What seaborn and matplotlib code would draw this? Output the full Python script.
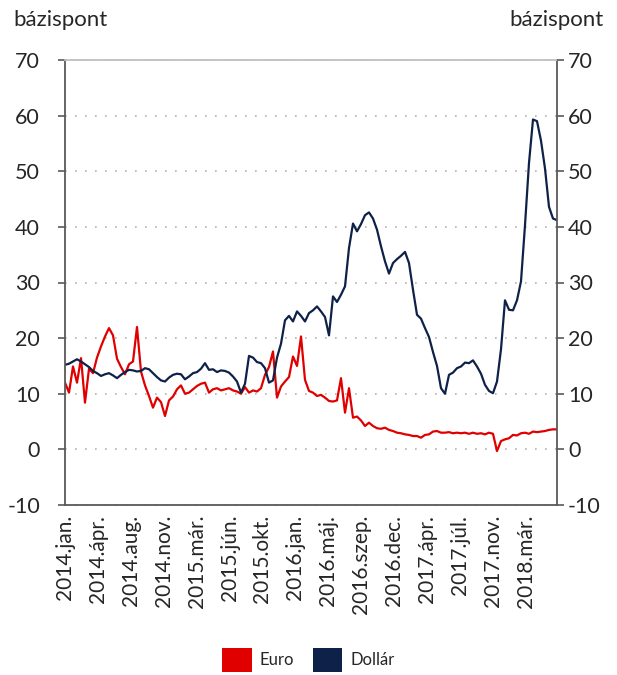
import numpy as np
import pandas as pd
import matplotlib
matplotlib.use("Agg")
import matplotlib.pyplot as plt
import seaborn as sns
from matplotlib.patches import Patch

tick_labels = ['2014.jan.', '2014.ápr.', '2014.aug.', '2014.nov.', '2015.már.',
               '2015.jún.', '2015.okt.', '2016.jan.', '2016.máj.', '2016.szep.',
               '2016.dec.', '2017.ápr.', '2017.júl.', '2017.nov.', '2018.már.']

dollar = [15.2, 15.4, 15.8, 16.2, 15.8, 15.3, 14.8, 14.1, 13.7, 13.2,
          13.5, 13.7, 13.3, 12.8, 13.4, 13.9, 14.3, 14.2, 14.0, 14.1,
          14.6, 14.4, 13.7, 13.0, 12.4, 12.2, 12.9, 13.4, 13.6, 13.5,
          12.6, 13.1, 13.7, 13.9, 14.5, 15.5, 14.3, 14.4, 13.9, 14.2,
          14.1, 13.8, 13.1, 12.2, 10.2, 11.8, 16.8, 16.5, 15.7, 15.5,
          14.6, 12.0, 12.4, 16.5, 19.0, 23.2, 24.0, 23.0, 24.8, 24.0,
          23.0, 24.5, 25.0, 25.7, 24.8, 23.8, 20.5, 27.5, 26.5, 27.8,
          29.3, 36.2, 40.6, 39.2, 40.5, 42.1, 42.6, 41.5, 39.5, 36.5,
          33.8, 31.6, 33.5, 34.2, 34.8, 35.5, 33.5, 28.7, 24.2, 23.5,
          21.8, 20.2, 17.5, 15.0, 11.0, 10.0, 13.4, 13.8, 14.6, 14.9,
          15.6, 15.5, 16.0, 14.9, 13.6, 11.6, 10.5, 10.1, 12.2, 18.0,
          26.8, 25.1, 25.0, 26.8, 30.2, 40.3, 51.5, 59.3, 59.0, 55.5,
          50.5, 43.6, 41.5, 41.2]

euro = [12.0, 10.2, 14.9, 12.0, 16.4, 8.4, 14.5, 13.7, 16.5, 18.5,
        20.3, 21.8, 20.5, 16.3, 14.8, 13.5, 15.3, 15.8, 22.0, 14.0,
        11.5, 9.6, 7.5, 9.3, 8.5, 6.0, 8.8, 9.5, 10.8, 11.5,
        10.0, 10.2, 10.8, 11.4, 11.8, 12.0, 10.2, 10.8, 11.0, 10.6,
        10.8, 11.0, 10.6, 10.4, 10.0, 11.2, 10.2, 10.6, 10.4, 11.0,
        13.4, 14.8, 17.6, 9.3, 11.3, 12.2, 13.0, 16.7, 15.0, 20.3,
        12.5, 10.5, 10.2, 9.6, 9.8, 9.3, 8.7, 8.6, 8.8, 12.8,
        6.6, 11.0, 5.7, 5.9, 5.2, 4.2, 4.8, 4.2, 3.8, 3.7,
        3.9, 3.5, 3.3, 3.0, 2.9, 2.7, 2.6, 2.4, 2.4, 2.1,
        2.6, 2.7, 3.2, 3.3, 3.0, 3.0, 3.1, 2.9, 3.0, 2.9,
        3.0, 2.8, 3.0, 2.8, 2.9, 2.7, 3.0, 2.8, -0.3, 1.5,
        1.8, 2.0, 2.6, 2.5, 2.9, 3.0, 2.8, 3.2, 3.1, 3.2,
        3.3, 3.5, 3.6, 3.6]

series_names = ['Euro', 'Dollár']
y_ticks = [-10, 0, 10, 20, 30, 40, 50, 60, 70]
unit_label = 'bázispont'

RED = '#E00000'
NAVY = '#0E2148'

# ---- build frame ----
n = len(dollar)
idx = np.arange(n)
df = pd.DataFrame({
    'i': np.concatenate([idx, idx]),
    'v': euro + dollar,
    's': [series_names[0]] * n + [series_names[1]] * n,
})

sns.set_theme(style='white')
plt.rcParams['font.family'] = ['Lato', 'DejaVu Sans']

fig = plt.figure(figsize=(6.17, 6.75), dpi=100)
ax = fig.add_axes([65 / 617, 1 - 505 / 675, 492 / 617, 445 / 675])

sns.lineplot(data=df, x='i', y='v', hue='s', hue_order=series_names,
             palette={series_names[0]: RED, series_names[1]: NAVY},
             linewidth=1.6, legend=False, ax=ax, estimator=None, sort=False)

ax.set_xlim(0, n - 1)
ax.set_ylim(-10, 70)
ax.set_xlabel('')
ax.set_ylabel('')

tick_step = (n - 1) / 14.95
ax.set_xticks([k * tick_step for k in range(len(tick_labels))])
ax.set_xticklabels(tick_labels, rotation=90, fontsize=15, ha='center', va='top')
ax.tick_params(axis='x', length=0, pad=7)

ax.set_yticks(y_ticks)
ax.set_yticklabels([str(t) for t in y_ticks], fontsize=15.5)
ax.tick_params(axis='y', direction='out', length=5, width=1.2,
               color='#595959', pad=13)

ax.grid(axis='y', color='#b3b3b3', linestyle=(0, (1, 5)), linewidth=1.2)
ax.grid(axis='x', visible=False)
ax.set_axisbelow(True)

for side in ['left', 'right', 'bottom']:
    ax.spines[side].set_color('#595959')
    ax.spines[side].set_linewidth(1.3)
ax.spines['top'].set_color('#bfbfbf')
ax.spines['top'].set_linewidth(1.3)

ax2 = ax.twinx()
ax2.set_ylim(-10, 70)
ax2.set_yticks(y_ticks)
ax2.set_yticklabels([str(t) for t in y_ticks], fontsize=15.5)
ax2.tick_params(axis='y', direction='out', length=5, width=1.2,
                color='#595959', pad=3)
ax2.grid(False)
for s in ax2.spines.values():
    s.set_visible(False)

fig.text(13 / 617, 1 - 20 / 675, unit_label, fontsize=16, ha='left', va='center')
fig.text(604 / 617, 1 - 20 / 675, unit_label, fontsize=16, ha='right', va='center')

handles = [Patch(facecolor=RED, edgecolor='none'),
           Patch(facecolor=NAVY, edgecolor='none')]
fig.legend(handles, series_names, loc='center',
           bbox_to_anchor=(0.5, 1 - 660 / 675), ncol=2, frameon=False,
           fontsize=12, handlelength=1.75, handleheight=1.75,
           handletextpad=0.5, columnspacing=1.1)

fig.savefig('out.png', dpi=100)
